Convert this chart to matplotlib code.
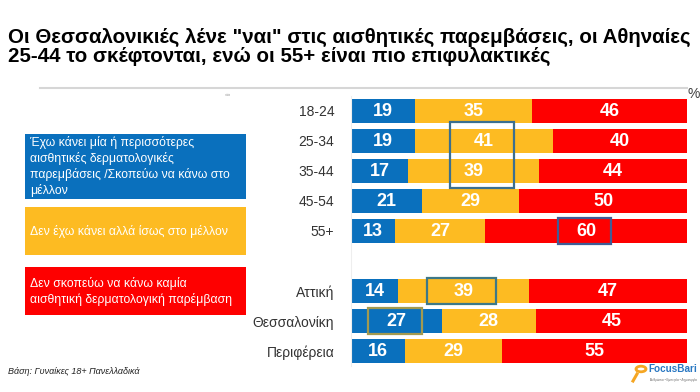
import numpy as np
import matplotlib.pyplot as plt
from matplotlib.patches import Rectangle, Circle

plt.rcParams['font.family'] = ['Liberation Sans', 'DejaVu Sans']

# Data
categories = ['18-24', '25-34', '35-44', '45-54', '55+', 'Αττική', 'Θεσσαλονίκη', 'Περιφέρεια']
rows = [0, 1, 2, 3, 4, 6, 7, 8]
done = [19, 19, 17, 21, 13, 14, 27, 16]
maybe = [35, 41, 39, 29, 27, 39, 28, 29]
never = [46, 40, 44, 50, 60, 47, 45, 55]

series_names = ['Έχω κάνει μία ή περισσότερες\nαισθητικές δερματολογικές\nπαρεμβάσεις /Σκοπεύω να κάνω στο\nμέλλον',
                'Δεν έχω κάνει αλλά ίσως στο μέλλον',
                'Δεν σκοπεύω να κάνω καμία\nαισθητική δερματολογική παρέμβαση']
colors = ['#0a70bd', '#fdbb22', '#fe0000']

# highlighted cells: (first category, last category, series index, box color)
highlights = [('25-34', '35-44', 1, '#3b6f8f'),
              ('55+', '55+', 2, '#3f5d96'),
              ('Αττική', 'Αττική', 1, '#3d7888'),
              ('Θεσσαλονίκη', 'Θεσσαλονίκη', 0, '#a39a50')]

W, H = 700, 392
fig = plt.figure(figsize=(7, 3.92), dpi=100)

# title
fig.text(8 / W, 1 - 43 / H, 'Οι Θεσσαλονικιές λένε "ναι" στις αισθητικές παρεμβάσεις, οι Αθηναίες',
         fontsize=14.8, fontweight='bold', va='baseline', ha='left')
fig.text(8 / W, 1 - 62 / H, '25-44 το σκέφτονται, ενώ οι 55+ είναι πιο επιφυλακτικές',
         fontsize=14.8, fontweight='bold', va='baseline', ha='left')

# thin grey rule above the chart
fig.add_artist(plt.Line2D([40 / W, 687 / W], [1 - 88 / H, 1 - 88 / H], color='#d6d6d6', lw=1.5))
fig.text(688 / W, 1 - 94 / H, '%', fontsize=10, color='#404040', va='center', ha='left')
fig.text(228 / W, 1 - 95 / H, '«»', fontsize=4, color='#999999', va='center', ha='center')

# bar chart
ax = fig.add_axes([351 / W, 1 - 366 / H, 336 / W, 270 / H])
data = [done, maybe, never]
left = np.zeros(len(categories))
for k in range(3):
    vals = np.array(data[k])
    ax.barh(rows, vals, left=left, height=0.83, color=colors[k], edgecolor='none')
    for r, v, l in zip(rows, vals, left):
        ax.text(l + v / 2, r, str(v), ha='center', va='center', color='white',
                fontsize=13, fontweight='bold')
    left = left + vals

for c1, c2, k, col in highlights:
    i1 = categories.index(c1)
    i2 = categories.index(c2)
    seg_left = sum(data[j][i1] for j in range(k))
    center = seg_left + data[k][i1] / 2
    wbox = 19 if i1 != i2 else 16
    if c1 == 'Αττική':
        wbox = 20.5
    y0 = rows[i1] - 0.42
    y1 = rows[i2] + 0.42
    if i1 != i2:
        y0 -= 0.2
        y1 += 0.15
    ax.add_patch(Rectangle((center - wbox / 2 - 0.5, y0), wbox, y1 - y0, fill=False,
                           edgecolor=col, lw=1.6, zorder=5))

ax.set_xlim(0, 100)
ax.set_ylim(8.5, -0.5)
ax.set_yticks(rows)
ax.set_yticklabels(categories, fontsize=10, color='#333333')
ax.tick_params(axis='y', length=0, pad=12)
ax.set_xticks([])
for s in ['top', 'right', 'bottom']:
    ax.spines[s].set_visible(False)
ax.spines['left'].set_color('#eeeeee')
ax.spines['left'].set_linewidth(0.8)

# legend boxes on the left
boxes = [(134, 199), (207, 255), (267, 315)]
for (top, bot), name, col in zip(boxes, series_names, colors):
    fig.add_artist(Rectangle((25 / W, 1 - bot / H), 221 / W, (bot - top) / H,
                             facecolor=col, edgecolor='none', transform=fig.transFigure))
    fig.text(30 / W, 1 - (top + bot) / 2 / H, name, fontsize=8.8, color='white',
             va='center', ha='left', linespacing=1.3)

# footer
fig.text(8 / W, 1 - 371 / H, 'Βάση: Γυναίκες 18+ Πανελλαδικά', fontsize=6.5,
         style='italic', color='#222222', va='center', ha='left')

# logo
fig.add_artist(Circle((641 / W, 1 - 369 / H), 5 / W, fill=False, edgecolor='#f5a623', lw=2,
                      transform=fig.transFigure))
fig.add_artist(plt.Line2D([637 / W, 633 / W], [1 - 374 / H, 1 - 381 / H], color='#f5a623', lw=2.2))
fig.text(648 / W, 1 - 369 / H, 'FocusBari', fontsize=7.2, fontweight='bold', color='#2a78c2',
         va='center', ha='left')
fig.text(650 / W, 1 - 380 / H, 'Άνθρωποι • Εμπειρία • Δημιουργία', fontsize=2.2, color='#666666',
         va='center', ha='left')

plt.savefig('out.png', dpi=100)
